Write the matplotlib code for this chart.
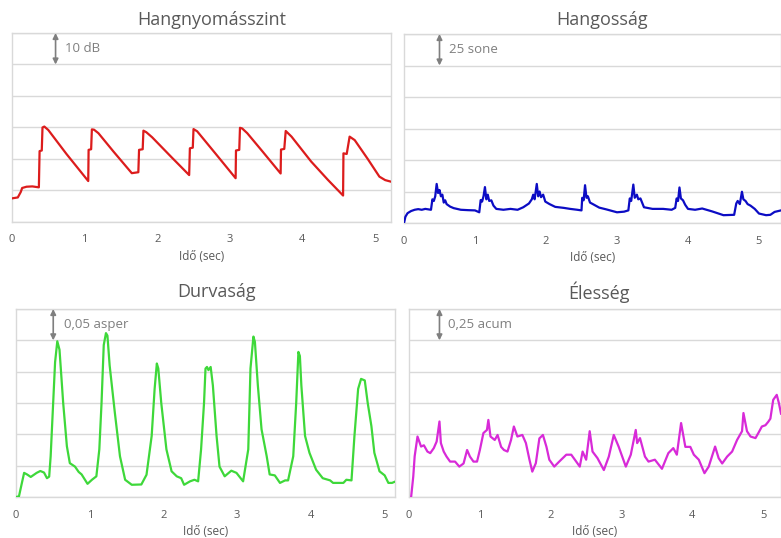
import matplotlib
matplotlib.use("Agg")
import matplotlib.pyplot as plt
from matplotlib.ticker import MultipleLocator

plt.rcParams['font.family'] = ['Open Sans', 'DejaVu Sans']

# ---------------- data ----------------
time_x_ticks = [0, 1, 2, 3, 4, 5]
x_label = "Idő (sec)"

spl_title = "Hangnyomásszint"
spl_t = [0, 0.08, 0.12, 0.14, 0.2, 0.28, 0.37, 0.38, 0.41, 0.42, 0.445, 0.5, 0.75, 1.05,
         1.055, 1.09, 1.10, 1.13, 1.19, 1.4, 1.65, 1.74,
         1.75, 1.8, 1.81, 1.85, 1.93, 2.2, 2.44,
         2.45, 2.49, 2.5, 2.55, 2.8, 3.08,
         3.085, 3.13, 3.14, 3.17, 3.24, 3.45, 3.70,
         3.705, 3.75, 3.77, 3.85, 4.12, 4.35, 4.56,
         4.565, 4.61, 4.65, 4.72, 4.9, 5.06, 5.14, 5.22]
spl_db = [47.5, 47.8, 49.5, 50.8, 51.2, 51.3, 51.0, 62.5, 62.7, 70.0, 70.3, 69.2, 61.6, 53.0,
          62.9, 63.1, 69.4, 69.3, 68.2, 62.3, 55.5, 55.8,
          62.9, 63.1, 69.0, 68.5, 66.9, 60.5, 54.9,
          63.4, 63.6, 69.5, 68.8, 61.8, 53.9,
          62.7, 62.9, 69.9, 69.7, 68.2, 62.4, 55.4,
          63.0, 63.2, 68.9, 67.1, 59.2, 53.4, 48.4,
          61.8, 61.6, 67.1, 66.0, 60.0, 54.4, 53.3, 52.8]

loud_title = "Hangosság"
loud_t = [0, 0.02, 0.05, 0.1, 0.15, 0.2, 0.25, 0.3, 0.38, 0.40, 0.42, 0.44, 0.46, 0.48, 0.5,
          0.52, 0.54, 0.56, 0.58, 0.6, 0.65, 0.7, 0.8, 0.9, 1.0, 1.06,
          1.08, 1.1, 1.12, 1.14, 1.16, 1.18, 1.2, 1.23, 1.26, 1.3, 1.4, 1.5, 1.6, 1.68, 1.76,
          1.8, 1.82, 1.84, 1.87, 1.89, 1.91, 1.93, 1.96, 1.99, 2.05, 2.13, 2.25, 2.34, 2.44,
          2.5, 2.51, 2.53, 2.55, 2.57, 2.59, 2.62, 2.66, 2.75, 2.85, 3.0, 3.1, 3.16,
          3.18, 3.2, 3.23, 3.25, 3.28, 3.3, 3.33, 3.38, 3.5, 3.65, 3.77, 3.82,
          3.84, 3.86, 3.88, 3.9, 3.93, 3.96, 4.0, 4.1, 4.2, 4.34, 4.5, 4.65,
          4.68, 4.7, 4.73, 4.76, 4.78, 4.81, 4.84, 4.88, 4.94, 5.0, 5.1, 5.16, 5.22, 5.31]
loud_sone = [0, 5, 7.8, 9.5, 10.5, 11, 10.5, 11.2, 10.5, 18.8, 17.5, 21.2, 31, 23.8, 26.2,
             21.2, 22.5, 16.2, 18, 15, 13, 11.8, 10.5, 10.2, 10, 8.5,
             18.2, 17, 21.2, 28.5, 18.8, 22.5, 17.5, 18, 13.8, 11.2, 10.5, 11.2, 10.5, 12.5, 15.5,
             18.8, 22.5, 18.8, 31, 21.2, 25, 20.5, 22.5, 17, 15, 12.8, 12, 11.2, 10.5,
             10, 20, 18, 30, 20, 21.2, 16.2, 15, 12.2, 10.8, 8.5, 9, 10,
             19.5, 17.5, 30.5, 20, 22.5, 18.8, 19.5, 12.5, 11.2, 11.2, 10.5, 12,
             19.5, 17.5, 28.2, 19.5, 18, 14.5, 11.2, 10.5, 11.5, 9.2, 6.2, 6.5,
             15.5, 17.5, 15, 24.8, 18.8, 17.5, 15, 13.8, 11.2, 7.5, 6.2, 6.5, 8.8, 10]

rough_title = "Durvaság"
rough_t = [0, 0.04, 0.08, 0.11, 0.15, 0.2, 0.28, 0.33, 0.38, 0.42, 0.45, 0.47, 0.5, 0.53, 0.56,
           0.59, 0.64, 0.69, 0.73, 0.8, 0.85, 0.89, 0.97, 1.03, 1.09, 1.13, 1.16, 1.19, 1.22,
           1.24, 1.27, 1.34, 1.41, 1.48, 1.57, 1.7, 1.77, 1.84, 1.88, 1.91, 1.93, 1.97, 2.04,
           2.11, 2.18, 2.24, 2.28, 2.36, 2.42, 2.47, 2.51, 2.55, 2.57, 2.59, 2.61, 2.64, 2.67,
           2.72, 2.76, 2.83, 2.92, 2.99, 3.08, 3.15, 3.18, 3.22, 3.24, 3.28, 3.33, 3.4, 3.44,
           3.51, 3.58, 3.65, 3.69, 3.76, 3.8, 3.83, 3.85, 3.87, 3.92, 3.98, 4.07, 4.16, 4.26,
           4.3, 4.44, 4.48, 4.55, 4.59, 4.64, 4.68, 4.73, 4.77, 4.82, 4.86, 4.93, 5.0, 5.05,
           5.1, 5.15]
rough_asper = [0, 0.001, 0.0225, 0.0385, 0.036, 0.032, 0.0385, 0.0415, 0.039, 0.030, 0.0325,
               0.065, 0.14, 0.215, 0.2485, 0.235, 0.15, 0.081, 0.054, 0.0485, 0.04, 0.036,
               0.021, 0.0275, 0.033, 0.076, 0.15, 0.2425, 0.2615, 0.2575, 0.21, 0.135, 0.065,
               0.0275, 0.0195, 0.02, 0.0355, 0.0975, 0.1725, 0.213, 0.205, 0.15, 0.076, 0.041,
               0.033, 0.03, 0.0195, 0.025, 0.0275, 0.025, 0.076, 0.15, 0.205, 0.2075, 0.2025,
               0.2075, 0.178, 0.0975, 0.0485, 0.033, 0.042, 0.0385, 0.025, 0.076, 0.205, 0.256,
               0.2475, 0.178, 0.108, 0.065, 0.036, 0.0345, 0.0225, 0.0265, 0.0265, 0.065, 0.15,
               0.2315, 0.225, 0.178, 0.0975, 0.0705, 0.0435, 0.03, 0.0265, 0.0225, 0.0225,
               0.0275, 0.0265, 0.0975, 0.1725, 0.1885, 0.186, 0.15, 0.113, 0.0705, 0.041,
               0.0345, 0.0225, 0.0225, 0.025]

sharp_title = "Élesség"
sharp_t = [0.03, 0.06, 0.08, 0.12, 0.17, 0.21, 0.26, 0.3, 0.35, 0.39, 0.43, 0.45, 0.49, 0.53,
           0.58, 0.65, 0.71, 0.77, 0.82, 0.86, 0.91, 0.96, 1.0, 1.05, 1.1, 1.12, 1.15, 1.21,
           1.25, 1.3, 1.34, 1.39, 1.44, 1.48, 1.53, 1.6, 1.65, 1.7, 1.74, 1.79, 1.84, 1.89,
           1.94, 1.98, 2.05, 2.12, 2.22, 2.29, 2.36, 2.41, 2.45, 2.5, 2.55, 2.59, 2.66, 2.75,
           2.82, 2.89, 2.96, 3.06, 3.13, 3.2, 3.22, 3.26, 3.33, 3.38, 3.47, 3.57, 3.66, 3.73,
           3.78, 3.84, 3.9, 3.97, 4.02, 4.09, 4.17, 4.23, 4.32, 4.37, 4.42, 4.49, 4.56, 4.63,
           4.7, 4.72, 4.77, 4.82, 4.89, 4.93, 4.98, 5.03, 5.07, 5.1, 5.14, 5.19, 5.22, 5.25]
sharp_acum = [0, 0.1625, 0.325, 0.4825, 0.4025, 0.4125, 0.3625, 0.35, 0.39, 0.4425, 0.6025,
              0.43, 0.3625, 0.3225, 0.2825, 0.2825, 0.2425, 0.2675, 0.375, 0.3225, 0.2825,
              0.2825, 0.375, 0.51, 0.535, 0.615, 0.4825, 0.455, 0.495, 0.40, 0.375, 0.3625,
              0.455, 0.5625, 0.4825, 0.495, 0.43, 0.2975, 0.2025, 0.27, 0.4675, 0.495, 0.40,
              0.2975, 0.2425, 0.2825, 0.3375, 0.3375, 0.2825, 0.2425, 0.3625, 0.2975, 0.525,
              0.3625, 0.31, 0.215, 0.3225, 0.495, 0.40, 0.2425, 0.3375, 0.535, 0.43, 0.47,
              0.3225, 0.2825, 0.2975, 0.225, 0.35, 0.39, 0.3375, 0.59, 0.40, 0.40, 0.3375,
              0.2975, 0.19, 0.2425, 0.4025, 0.31, 0.2675, 0.3225, 0.3625, 0.455, 0.525, 0.67,
              0.525, 0.4825, 0.47, 0.51, 0.5625, 0.5725, 0.60, 0.625, 0.775, 0.815, 0.75, 0.665]

scale_labels = ["10 dB", "25 sone", "0,05 asper", "0,25 acum"]

# ---------------- figure ----------------
W, H = 781, 538
fig = plt.figure(figsize=(W / 100, H / 100), dpi=100)
fig.patch.set_facecolor('white')

def frac_box(l, r, t, b):
    return [l / W, 1 - b / H, (r - l) / W, (b - t) / H]

panels = [
    dict(box=(12, 391, 33, 222), t=spl_t, y=spl_db, col='#dc1c1c', ylim=(40, 100), step=10,
         xmax=5.22, title=spl_title, title_x=212, title_y=20, arrow_x=0.60, text_x=0.73,
         lab=scale_labels[0]),
    dict(box=(404, 781, 34, 223), t=loud_t, y=loud_sone, col='#0c0cc4', ylim=(0, 150), step=25,
         xmax=5.31, title=loud_title, title_x=602, title_y=20, arrow_x=0.50, text_x=0.64,
         lab=scale_labels[1]),
    dict(box=(16, 395, 309, 497), t=rough_t, y=rough_asper, col='#3ed83a', ylim=(0, 0.30), step=0.05,
         xmax=5.14, title=rough_title, title_x=217, title_y=292, arrow_x=0.505, text_x=0.65,
         lab=scale_labels[2]),
    dict(box=(409, 781, 309, 497), t=sharp_t, y=sharp_acum, col='#d82ad8', ylim=(0, 1.5), step=0.25,
         xmax=5.25, title=sharp_title, title_x=599, title_y=292, arrow_x=0.43, text_x=0.555,
         lab=scale_labels[3]),
]

grid_col = '#d9d9d9'
text_col = '#595959'
ann_col = '#7f7f7f'

for p in panels:
    ax = fig.add_axes(frac_box(*p['box']))
    ax.plot(p['t'], p['y'], color=p['col'], lw=1.6, solid_joinstyle='round', zorder=3)
    ax.set_xlim(0, p['xmax'])
    ax.set_ylim(*p['ylim'])
    ax.set_xticks(time_x_ticks)
    ax.yaxis.set_major_locator(MultipleLocator(p['step']))
    ax.set_yticklabels([])
    ax.tick_params(axis='y', length=0)
    ax.tick_params(axis='x', length=0, pad=9, labelsize=8, labelcolor=text_col)
    ax.grid(axis='y', color=grid_col, lw=1.0)
    for s in ax.spines.values():
        s.set_color(grid_col)
        s.set_linewidth(1.0)
    ax.set_xlabel(x_label, fontsize=8.5, color=text_col, labelpad=3)
    lo, hi = p['ylim']
    ax.annotate('', xy=(p['arrow_x'], hi), xytext=(p['arrow_x'], hi - p['step']),
                arrowprops=dict(arrowstyle='<|-|>', color=ann_col, lw=1.2,
                                mutation_scale=8, shrinkA=0, shrinkB=0))
    ax.text(p['text_x'], hi - 0.5 * p['step'], p['lab'], fontsize=9.5, color=ann_col,
            ha='left', va='center')
    fig.text(p['title_x'] / W, 1 - p['title_y'] / H, p['title'], fontsize=13,
             color=text_col, ha='center', va='center')

fig.savefig('out.png', dpi=100, facecolor='white')
